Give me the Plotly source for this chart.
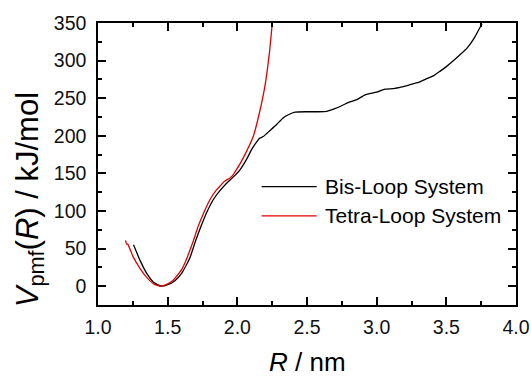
import plotly.graph_objects as go

# Potential of mean force profiles, V_pmf(R) in kJ/mol vs R in nm
bis_R = [1.255, 1.30, 1.35, 1.40, 1.455, 1.50, 1.55, 1.60, 1.66, 1.70, 1.74, 1.78, 1.827,
         1.875, 1.923, 1.97, 2.02, 2.07, 2.10, 2.139, 2.162, 2.186, 2.234, 2.282, 2.33,
         2.366, 2.414, 2.50, 2.58, 2.642, 2.70, 2.737, 2.77, 2.809, 2.857, 2.917, 3.00,
         3.06, 3.12, 3.18, 3.24, 3.30, 3.36, 3.41, 3.456, 3.50, 3.552, 3.60, 3.65, 3.70,
         3.756]
bis_V = [55, 35, 17, 5, 0, 2, 7, 17, 38, 60, 80, 98, 115,
         127, 137, 145, 155, 170, 181, 192, 197, 199, 207, 215, 224,
         228, 231.5, 232, 232, 232.5, 236, 239, 242, 245, 248, 254.5, 258,
         262, 262.7, 265, 268, 271, 276, 280, 286, 292, 300, 308, 317, 330,
         349]

tetra_R = [1.198, 1.205, 1.213, 1.25, 1.30, 1.348, 1.40, 1.45, 1.50, 1.54, 1.60, 1.635,
           1.68, 1.72, 1.76, 1.803, 1.85, 1.88, 1.904, 1.93, 1.947, 1.965, 1.983, 2.02,
           2.06, 2.114, 2.158, 2.198, 2.23, 2.251]
tetra_V = [61, 56, 56, 40, 24, 12, 3, 0, 3, 8, 22, 36,
           58, 80, 98, 115, 128, 134, 139, 142, 144, 147, 152, 163,
           177, 199, 230, 266, 310, 350]

series_names = ["Bis-Loop System", "Tetra-Loop System"]
series_colors = ["#000000", "#e00000"]

x_ticks = [1.0, 1.5, 2.0, 2.5, 3.0, 3.5, 4.0]
y_ticks = [0, 50, 100, 150, 200, 250, 300, 350]

FONT = "Liberation Sans, Arial, sans-serif"

fig = go.Figure()
for R, V, name, color in zip([bis_R, tetra_R], [bis_V, tetra_V], series_names, series_colors):
    fig.add_trace(go.Scatter(x=R, y=V, mode="lines", name=name, showlegend=False,
                             line=dict(color=color, width=1.3, shape="spline", smoothing=0.5)))

axis_common = dict(
    showline=True, linecolor="black", linewidth=1.5, mirror="ticks",
    ticks="inside", ticklen=8, tickwidth=1.5, tickcolor="black",
    showgrid=False, zeroline=False, automargin=False,
    tickfont=dict(family=FONT, size=19.5, color="#111111"),
)

fig.update_xaxes(range=[1.0, 4.0], tickvals=x_ticks,
                 ticktext=[f"{v:.1f}" for v in x_ticks],
                 minor=dict(dtick=0.25, ticks="inside", ticklen=4, tickwidth=1.5,
                            tickcolor="black", showgrid=False),
                 ticklabelstandoff=4, **axis_common)
fig.update_yaxes(range=[-25, 350], tickvals=y_ticks,
                 minor=dict(dtick=25, ticks="inside", ticklen=4, tickwidth=1.5,
                            tickcolor="black", showgrid=False),
                 ticklabelstandoff=6, **axis_common)

# Axis titles
annotations = [
    dict(text="<i>R</i> / nm", xref="paper", yref="paper", x=0.5, y=-0.202,
         xanchor="center", yanchor="middle", showarrow=False,
         font=dict(family=FONT, size=26, color="black")),
    dict(text="<i>V</i><sub>pmf</sub>(<i>R</i>) / kJ/mol", xref="paper", yref="paper",
         x=-0.164, y=0.373, xanchor="center", yanchor="middle", textangle=-90,
         showarrow=False, font=dict(family=FONT, size=31, color="black")),
]

# Legend entries
legend_x0, legend_x1, legend_text_x = 0.3915, 0.5232, 0.538
legend_ys = [0.42, 0.316]
shapes = []
for name, color, ly in zip(series_names, series_colors, legend_ys):
    shapes.append(dict(type="line", xref="paper", yref="paper", x0=legend_x0, x1=legend_x1,
                       y0=ly, y1=ly, line=dict(color=color, width=1.3)))
    annotations.append(dict(text=name, xref="paper", yref="paper", x=legend_text_x, y=ly,
                            xanchor="left", yanchor="middle", showarrow=False,
                            font=dict(family=FONT, size=21, color="black")))

fig.update_layout(
    width=531, height=376,
    margin=dict(l=98, r=15, t=23, b=71),
    paper_bgcolor="white", plot_bgcolor="white",
    annotations=annotations, shapes=shapes,
)

fig.write_html("out.html")
